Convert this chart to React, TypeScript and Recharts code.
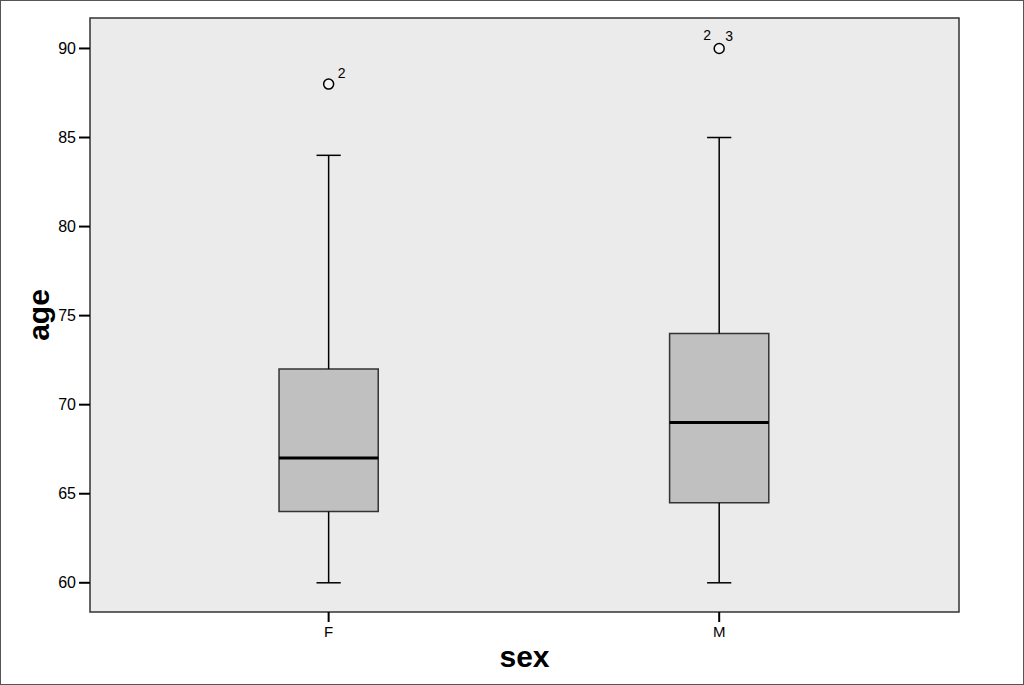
import React from 'react';
import {
  ComposedChart,
  Scatter,
  XAxis,
  YAxis,
  ReferenceArea,
  ReferenceLine,
  Label,
} from 'recharts';

// box plot of age by sex
const categories = ['F', 'M'];
const positions = [1, 2];
const lowerWhisker = [60, 60];
const q1 = [64, 64.5];
const median = [67, 69];
const q3 = [72, 74];
const upperWhisker = [84, 85];

const outlierPos = [1, 2];
const outlierValues = [88, 90];
const outlierIds = [['2'], ['2', '3']];

const yTicks = [60, 65, 70, 75, 80, 85, 90];
const X_DOMAIN = [0.389, 2.614];
const Y_DOMAIN = [58.36, 91.71];

const BOX_HALF = 0.127;
const CAP_HALF = 0.031;
const FONT = 'Arial, "Liberation Sans", sans-serif';

const outlierData = outlierPos.map((p, i) => ({ x: p, y: outlierValues[i], ids: outlierIds[i] }));

function OutlierShape(props: any) {
  const { cx, cy, payload } = props;
  const ids: string[] = payload.ids;
  const spots = ids.length === 1 ? [[13, -11]] : [[-12, -13], [10, -12]];
  return (
    <g>
      <circle cx={cx} cy={cy} r={5} fill="#f4f4f4" stroke="#000" strokeWidth={1.5} />
      {ids.map((id, i) => (
        <text
          key={i}
          x={cx + spots[i][0]}
          y={cy + spots[i][1]}
          textAnchor="middle"
          dominantBaseline="central"
          fontSize={14}
          fontFamily={FONT}
          fill="#000"
        >
          {id}
        </text>
      ))}
    </g>
  );
}

export default function App() {
  return (
    <div style={{ position: 'absolute', left: 0, top: 0, width: 1024, height: 685, background: '#fff' }}>
      <ComposedChart width={1024} height={685} margin={{ top: 18, right: 65, bottom: 0, left: 0 }}>
        <XAxis
          type="number"
          dataKey="x"
          domain={X_DOMAIN}
          ticks={positions}
          tickFormatter={(v: number) => categories[v - 1]}
          height={73}
          axisLine={false}
          tickSize={10}
          tickMargin={4}
          tickLine={{ stroke: '#000', strokeWidth: 2 }}
          tick={{ fontSize: 15, fill: '#000', fontFamily: FONT }}
          allowDataOverflow
        >
          <Label value="sex" position="center" dy={8} style={{ fontSize: 30, fontWeight: 'bold', fill: '#000', fontFamily: FONT }} />
        </XAxis>
        <YAxis
          type="number"
          dataKey="y"
          domain={Y_DOMAIN}
          ticks={yTicks}
          width={90}
          axisLine={false}
          tickSize={11}
          tickMargin={3}
          tickLine={{ stroke: '#000', strokeWidth: 2 }}
          tick={{ fontSize: 16, fill: '#000', fontFamily: FONT }}
          allowDataOverflow
        >
          <Label value="age" position="center" angle={-90} dx={-7} style={{ fontSize: 30, fontWeight: 'bold', fill: '#000', fontFamily: FONT }} />
        </YAxis>

        <ReferenceArea
          x1={X_DOMAIN[0]}
          x2={X_DOMAIN[1]}
          y1={Y_DOMAIN[0]}
          y2={Y_DOMAIN[1]}
          fill="#ebebeb"
          fillOpacity={1}
          stroke="#333"
          strokeWidth={1.5}
          ifOverflow="visible"
        />

        {positions.map((p, i) => (
          <ReferenceLine
            key={'lw' + i}
            segment={[{ x: p, y: lowerWhisker[i] }, { x: p, y: q1[i] }]}
            stroke="#000"
            strokeWidth={1.5}
          />
        ))}
        {positions.map((p, i) => (
          <ReferenceLine
            key={'uw' + i}
            segment={[{ x: p, y: q3[i] }, { x: p, y: upperWhisker[i] }]}
            stroke="#000"
            strokeWidth={1.5}
          />
        ))}
        {positions.map((p, i) => (
          <ReferenceLine
            key={'lc' + i}
            segment={[{ x: p - CAP_HALF, y: lowerWhisker[i] }, { x: p + CAP_HALF, y: lowerWhisker[i] }]}
            stroke="#000"
            strokeWidth={1.5}
          />
        ))}
        {positions.map((p, i) => (
          <ReferenceLine
            key={'uc' + i}
            segment={[{ x: p - CAP_HALF, y: upperWhisker[i] }, { x: p + CAP_HALF, y: upperWhisker[i] }]}
            stroke="#000"
            strokeWidth={1.5}
          />
        ))}
        {positions.map((p, i) => (
          <ReferenceArea
            key={'b' + i}
            x1={p - BOX_HALF}
            x2={p + BOX_HALF}
            y1={q1[i]}
            y2={q3[i]}
            fill="#c0c0c0"
            fillOpacity={1}
            stroke="#333"
            strokeWidth={1.5}
          />
        ))}
        {positions.map((p, i) => (
          <ReferenceLine
            key={'m' + i}
            segment={[{ x: p - BOX_HALF, y: median[i] }, { x: p + BOX_HALF, y: median[i] }]}
            stroke="#000"
            strokeWidth={3}
          />
        ))}

        <Scatter data={outlierData} dataKey="y" shape={OutlierShape} isAnimationActive={false} />
      </ComposedChart>
      <div
        style={{
          position: 'absolute',
          left: 0,
          top: 0,
          width: 1024,
          height: 685,
          boxSizing: 'border-box',
          border: '1.5px solid #555',
          pointerEvents: 'none',
        }}
      />
    </div>
  );
}
